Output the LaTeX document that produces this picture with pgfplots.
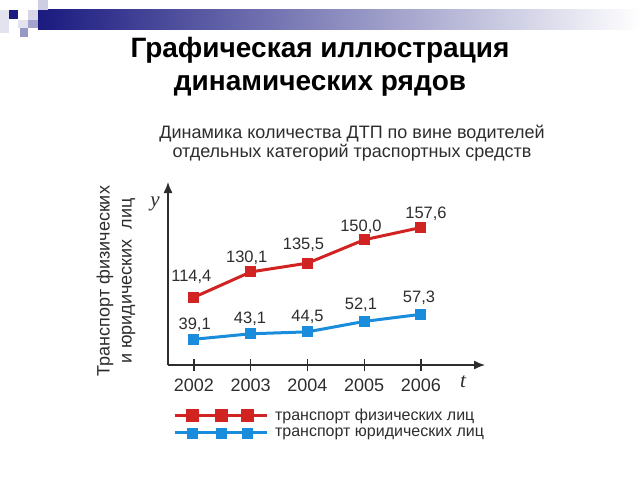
\documentclass[border=0pt]{standalone}
\usepackage{fontspec}
\setmainfont{Liberation Sans}
\newfontfamily\lserif{Liberation Serif}
\usepackage{pgfplots}
\pgfplotsset{compat=1.18}
\usetikzlibrary{arrows.meta}
\definecolor{cred}{RGB}{210,35,35}
\definecolor{cblue}{RGB}{25,140,220}
\definecolor{ctext}{RGB}{45,45,45}
\definecolor{navy}{RGB}{26,26,128}
\newcommand{\fs}[1]{\fontsize{#1}{#1}\selectfont}

\pgfplotstableread{
year val
2002 114.4
2003 130.1
2004 135.5
2005 150.0
2006 157.6
}\tphys
\pgfplotstableread{
year val
2002 39.1
2003 43.1
2004 44.5
2005 52.1
2006 57.3
}\tjur

\begin{document}
\begin{tikzpicture}
\path[use as bounding box] (0,0) rectangle (640pt,-480pt);
\begin{scope}[x=1pt,y=-1pt]
 \shade[left color=navy, right color=white] (38,9) rectangle (640,29);
 \fill[navy!12] (0,10) rectangle (9,33);
 \fill[navy] (9,10) rectangle (18,19);
 \fill[navy!22] (38,0) rectangle (48,10);
 \fill[navy!18] (28,10) rectangle (38,20);
 \fill[navy!12] (18,20) rectangle (28,28);
 \fill[navy!40] (28,20) rectangle (38,28);
 \fill[navy!45] (20,28) rectangle (28,37);
 \node[anchor=base, font=\fs{28}\bfseries, inner sep=0] at (320,57) {Графическая иллюстрация};
 \node[anchor=base, font=\fs{28}\bfseries, inner sep=0] at (320,90) {динамических рядов};
 \node[anchor=base, font=\fs{18}, text=ctext, inner sep=0] at (352,138) {Динамика количества ДТП по вине водителей};
 \node[anchor=base, font=\fs{18}, text=ctext, inner sep=0] at (352,157) {отдельных категорий траспортных средств};
 \node[rotate=90, font=\fontsize{18}{22}\selectfont, text=ctext, align=center, inner sep=0] at (116,281) {Транспорт физических\\и юридических\ \ лиц};
 \node[font=\lserif\itshape\fs{21}, text=ctext, inner sep=0] at (155,204) {y};
 \node[font=\lserif\itshape\fs{21}, text=ctext, inner sep=0] at (463,382) {t};
\end{scope}

\begin{axis}[
  at={(168pt,-365pt)}, anchor=south west,
  scale only axis, width=317pt, height=183pt,
  xmin=2001.542, xmax=2007.128, ymin=72.45, ymax=185.77,
  axis x line=bottom, axis y line=left,
  axis line style={ctext, line width=1.3pt, -{Latex[length=11pt,width=9pt]}},
  xtick={2002,2003,2004,2005,2006},
  xticklabels={2002,2003,2004,2005,2006},
  ytick=\empty,
  major tick length=12pt, tick align=center,
  tick style={ctext, line width=1.3pt},
  xticklabel style={font=\fs{18}, text=ctext, yshift=-4pt},
  clip=false,
  legend style={at={(0.006,-0.216)}, anchor=north west, draw=none, fill=none,
    font=\fs{16}, text=ctext, row sep=2pt},
  legend cell align=left,
]
\addplot[cred, line width=3pt, mark=square*, mark size=5pt, mark options={solid, line width=0pt},
  legend image code/.code={
    \path (97pt,0pt);
    \draw[cred, line width=3pt] (0pt,0pt) -- (92pt,0pt);
    \fill[cred] (13pt,-5pt) rectangle (23pt,5pt);
    \fill[cred] (42pt,-5pt) rectangle (52pt,5pt);
    \fill[cred] (68pt,-5pt) rectangle (78pt,5pt);}]
  table[x=year, y=val] {\tphys};
\addlegendentry{транспорт физических лиц}
\addlegendimage{legend image code/.code={
    \path (97pt,0pt);
    \draw[cblue, line width=3pt] (0pt,0pt) -- (92pt,0pt);
    \fill[cblue] (13pt,-5pt) rectangle (23pt,5pt);
    \fill[cblue] (42pt,-5pt) rectangle (52pt,5pt);
    \fill[cblue] (68pt,-5pt) rectangle (78pt,5pt);}}
\addlegendentry{транспорт юридических лиц}
\begin{scope}[every node/.style={font=\fs{16.5}, text=ctext, anchor=base, inner sep=0}]
\node at (axis cs:2002,114.4) [xshift=-2.6pt, yshift=16pt] {114,4};
\node at (axis cs:2003,130.1) [xshift=-4pt, yshift=9.5pt] {130,1};
\node at (axis cs:2004,135.5) [xshift=-4pt, yshift=14pt] {135,5};
\node at (axis cs:2005,150.0) [xshift=-3.3pt, yshift=8pt] {150,0};
\node at (axis cs:2006,157.6) [xshift=5pt, yshift=9pt] {157,6};
\end{scope}
\end{axis}

\begin{axis}[
  at={(168pt,-365pt)}, anchor=south west,
  scale only axis, width=317pt, height=183pt,
  xmin=2001.542, xmax=2007.128, ymin=20.34, ymax=153.72,
  hide axis, clip=false,
]
\addplot[cblue, line width=3pt, mark=square*, mark size=5pt, mark options={solid, line width=0pt}]
  table[x=year, y=val] {\tjur};
\begin{scope}[every node/.style={font=\fs{16.5}, text=ctext, anchor=base, inner sep=0}]
\node at (axis cs:2002,39.1) [xshift=0.7pt, yshift=10pt] {39,1};
\node at (axis cs:2003,43.1) [xshift=-0.7pt, yshift=10pt] {43,1};
\node at (axis cs:2004,44.5) [xshift=0pt, yshift=10pt] {44,5};
\node at (axis cs:2005,52.1) [xshift=-3.3pt, yshift=12pt] {52,1};
\node at (axis cs:2006,57.3) [xshift=-2pt, yshift=12pt] {57,3};
\end{scope}
\end{axis}
\end{tikzpicture}
\end{document}
